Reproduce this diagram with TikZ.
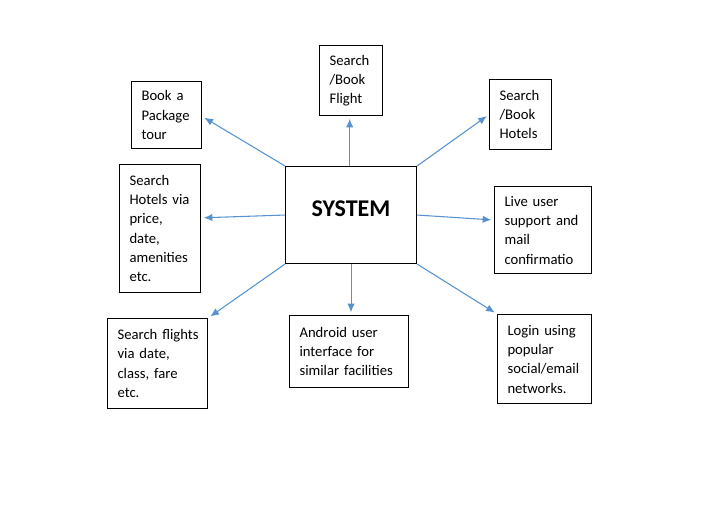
\documentclass[tikz,border=0pt]{standalone}
\usepackage{fontspec}
\setmainfont[WordSpace=0.75]{Carlito}
\usetikzlibrary{arrows.meta}
\definecolor{linkblue}{RGB}{86,146,208}
\hyphenpenalty=10000
\tikzset{
  box/.style={draw,line width=0.8pt,anchor=north west,align=left,inner xsep=7.5pt,inner ysep=0pt,
    font=\fontsize{11}{14.5}\selectfont},
  link/.style={draw=linkblue,line width=0.8pt,-{Latex[length=6.5pt,width=5.5pt]},shorten >=2pt}
}
\begin{document}
\begin{tikzpicture}[x=0.75pt,y=-0.75pt]
                \useasboundingbox (0,0) rectangle (726,517);
                %% centre
                \node[draw,line width=0.8pt,anchor=north west,minimum width=98.25pt,minimum height=72.75pt,
                  text height=12pt,text depth=9.75pt,font=\fontsize{18}{22}\selectfont\bfseries] (sys) at (285,166) {SYSTEM};
                %% boxes round it
                \node[box,text width=37.5pt,minimum height=50.25pt] (pkg) at (131,81) {Book~a\\Package\\tour};
                \node[box,text width=32.25pt,minimum height=52.5pt] (flight) at (319,45) {Search\\/Book\\Flight};
                \node[box,text width=31.5pt,minimum height=52.5pt] (hotelbook) at (489,79) {Search\\/Book\\Hotels};
                \node[box,text width=45.75pt,minimum height=96pt] (hotelsearch) at (119,164) {Search\\Hotels~via\\price,\\date,\\amenities\\etc.};
                \node[box,text width=57.75pt,minimum height=65.25pt] (live) at (494,186) {Live~user\\support~and\\mail\\confirmatio};
                \node[box,text width=55.5pt,minimum height=66.75pt] (login) at (497,314) {Login~using\\popular\\social/email\\networks.};
                \node[box,text width=60pt,minimum height=67.5pt] (flightsearch) at (107,318) {Search~flights\\via~date,\\class,~fare\\etc.};
                \node[box,text width=74.25pt,minimum height=54pt] (android) at (289,315) {Android~user\\interface~for\\similar~facilities};
                %% arrows out of the system
                \draw[link] (sys.north west) -- ([yshift=-1pt]pkg.east);
                \draw[link] ([xshift=-1pt]sys.north) -- ([xshift=-1pt]flight.south);
                \draw[link] (sys.north east) -- (hotelbook.west);
                \draw[link] (sys.east) -- ([yshift=7.5pt]live.west);
                \draw[link] (sys.south east) -- (login.north west);
                \draw[link] (sys.south) -- (sys.south |- android.north);
                \draw[link] (sys.south west) -- (flightsearch.north east);
                \draw[link] (sys.west) -- ([yshift=8pt]hotelsearch.east);
            \end{tikzpicture}
\end{document}
